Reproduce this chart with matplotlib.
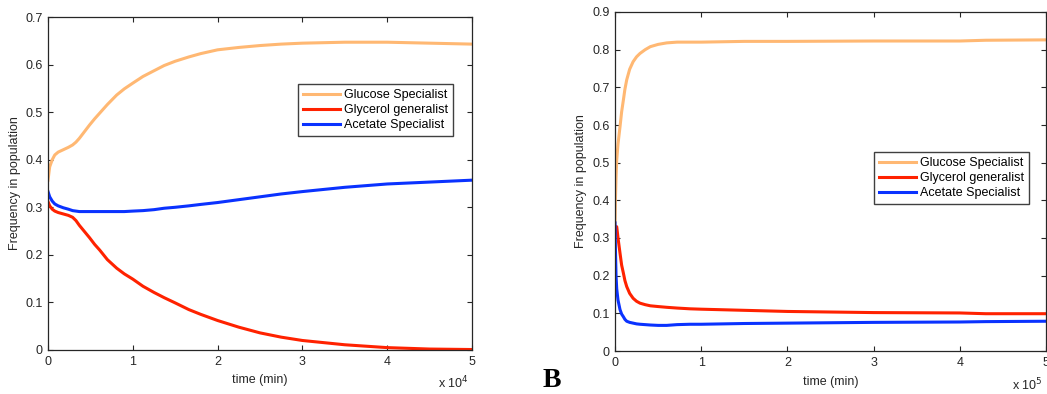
import matplotlib
matplotlib.use("Agg")
import matplotlib.pyplot as plt

plt.rcParams['font.family'] = ['Liberation Sans', 'DejaVu Sans']

# ---- Panel A data (time in units of 1e4 min) ----
tA = [0.0, 0.02, 0.05, 0.08, 0.12, 0.18, 0.24, 0.29, 0.33, 0.37, 0.43, 0.49, 0.55, 0.61, 0.7, 0.81, 0.9, 1.0, 1.12, 1.25, 1.37, 1.5, 1.66, 1.8, 2.0, 2.25, 2.5, 2.75, 3.0, 3.5, 4.0, 4.5, 5.0]
glucA = [0.357, 0.385, 0.400, 0.410, 0.416, 0.421, 0.426, 0.431, 0.437, 0.445, 0.459, 0.473, 0.486, 0.498, 0.516, 0.536, 0.549, 0.561, 0.575, 0.587, 0.598, 0.607, 0.616, 0.623, 0.631, 0.636, 0.640, 0.643, 0.645, 0.647, 0.647, 0.645, 0.643]
glycA = [0.312, 0.303, 0.296, 0.292, 0.289, 0.286, 0.283, 0.279, 0.272, 0.262, 0.249, 0.236, 0.222, 0.210, 0.190, 0.172, 0.160, 0.149, 0.134, 0.121, 0.110, 0.099, 0.085, 0.075, 0.062, 0.048, 0.036, 0.027, 0.020, 0.011, 0.005, 0.002, 0.001]
aceA = [0.333, 0.322, 0.313, 0.307, 0.303, 0.299, 0.296, 0.293, 0.292, 0.291, 0.291, 0.291, 0.291, 0.291, 0.291, 0.291, 0.291, 0.292, 0.293, 0.295, 0.298, 0.300, 0.303, 0.306, 0.310, 0.316, 0.322, 0.328, 0.333, 0.342, 0.349, 0.353, 0.357]

# ---- Panel B data (time in units of 1e5 min) ----
tB = [0.0, 0.005, 0.012, 0.02, 0.035, 0.058, 0.077, 0.097, 0.115, 0.136, 0.17, 0.21, 0.25, 0.29, 0.35, 0.41, 0.5, 0.6, 0.72, 0.87, 1.0, 1.5, 2.0, 3.0, 4.0, 4.3, 5.0]
glucB = [0.33, 0.40, 0.46, 0.507, 0.55, 0.595, 0.635, 0.666, 0.695, 0.720, 0.748, 0.768, 0.781, 0.790, 0.800, 0.808, 0.814, 0.818, 0.820, 0.820, 0.820, 0.822, 0.822, 0.823, 0.823, 0.825, 0.826]
glycB = [0.33, 0.33, 0.33, 0.33, 0.30, 0.26, 0.228, 0.207, 0.187, 0.171, 0.153, 0.140, 0.132, 0.127, 0.123, 0.120, 0.118, 0.116, 0.114, 0.112, 0.111, 0.108, 0.105, 0.102, 0.101, 0.099, 0.099]
aceB = [0.34, 0.27, 0.20, 0.165, 0.135, 0.11, 0.098, 0.091, 0.084, 0.079, 0.076, 0.074, 0.072, 0.071, 0.070, 0.069, 0.068, 0.068, 0.070, 0.071, 0.071, 0.073, 0.074, 0.076, 0.077, 0.078, 0.079]

labels = ['Glucose Specialist', 'Glycerol generalist', 'Acetate Specialist']
colors = ['#FFB873', '#FF2200', '#0A32FF']

fig = plt.figure(figsize=(10.47, 3.94), dpi=100)
axA = fig.add_axes([48/1047, 1-350/394, 424/1047, 333/394])
axB = fig.add_axes([615/1047, 1-351/394, 431/1047, 339/394])

FS = 9

def style(ax, ymax, ystep, exp, legend_anchor, ylabelx):
    ax.set_xlim(0, 5)
    ax.set_ylim(0, ymax)
    ax.set_xticks(range(0, 6))
    yt = [round(i*ystep, 2) for i in range(int(round(ymax/ystep)) + 1)]
    ax.set_yticks(yt)
    ax.set_yticklabels([('%g' % v) for v in yt])
    ax.tick_params(direction='in', top=True, right=True, length=3.6, width=0.8,
                   labelsize=FS, colors='0.15', pad=4)
    for s in ax.spines.values():
        s.set_color('0.15')
        s.set_linewidth(0.9)
    ax.set_xlabel('time (min)', fontsize=FS, labelpad=5, color='0.15')
    ax.set_ylabel('Frequency in population', fontsize=FS, color='0.15')
    ax.yaxis.set_label_coords(ylabelx, 0.5)
    ax.text(0.993, -0.075, r'x 10$^{%d}$' % exp, transform=ax.transAxes,
            ha='right', va='top', fontsize=FS, color='0.15')
    leg = ax.legend(loc='upper right', bbox_to_anchor=legend_anchor, fontsize=FS,
                    fancybox=False, edgecolor='0.25', framealpha=1,
                    handlelength=3.0, borderpad=0.4, labelspacing=0.25,
                    handletextpad=0.3, borderaxespad=0)
    leg.get_frame().set_linewidth(1.0)

for y, lab, c in zip([glucA, glycA, aceA], labels, colors):
    axA.plot(tA, y, color=c, lw=2.2, label=lab)
style(axA, 0.7, 0.1, 4, (0.955, 0.799), -27/424)

for y, lab, c in zip([glucB, glycB, aceB], labels, colors):
    axB.plot(tB, y, color=c, lw=2.2, label=lab)
style(axB, 0.9, 0.1, 5, (0.9606, 0.587), -28/431)

fig.text(543/1047, 1-393/394, 'B', ha='left', va='bottom', fontsize=20,
         fontweight='bold', family='Liberation Serif')

fig.savefig('out.png', dpi=100)
